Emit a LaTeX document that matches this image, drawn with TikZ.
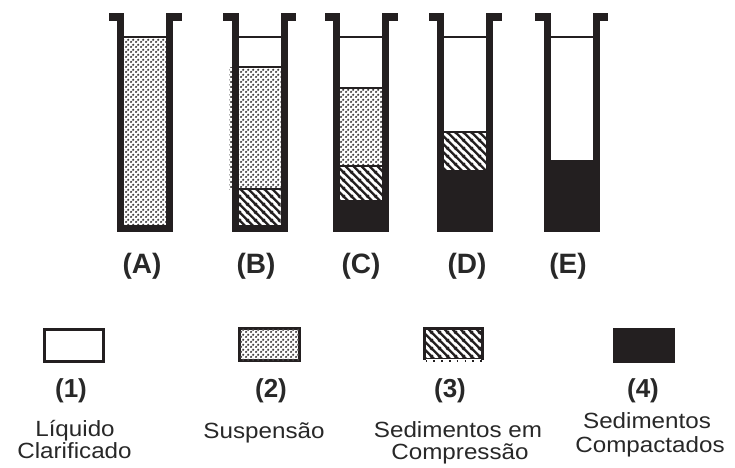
\documentclass[tikz,border=0pt]{standalone}
\usepackage{fontspec}
\usetikzlibrary{patterns}
\newfontfamily\legfont{Liberation Sans}
\newfontfamily\widefont[FakeStretch=1.1]{Liberation Sans}

\definecolor{ink}{RGB}{35,31,32}
\definecolor{txt}{RGB}{40,40,40}

% fine dot texture for the suspension layer
\pgfdeclarepatternformonly{stipple}{\pgfqpoint{0pt}{0pt}}{\pgfqpoint{5pt}{5pt}}{\pgfqpoint{5pt}{5pt}}{%
  \pgfpathcircle{\pgfqpoint{1.25pt}{1.25pt}}{1.42pt}%
  \pgfpathcircle{\pgfqpoint{3.75pt}{3.75pt}}{1.42pt}%
  \pgfusepath{fill}}

% thick back-slash hatching for the compressing sediment
\pgfdeclarepatternformonly{hatchband}{\pgfqpoint{0pt}{0pt}}{\pgfqpoint{8pt}{8pt}}{\pgfqpoint{8pt}{8pt}}{%
  \pgfsetlinewidth{2.4pt}%
  \pgfpathmoveto{\pgfqpoint{-1pt}{9pt}}\pgfpathlineto{\pgfqpoint{9pt}{-1pt}}%
  \pgfpathmoveto{\pgfqpoint{-1pt}{1pt}}\pgfpathlineto{\pgfqpoint{1pt}{-1pt}}%
  \pgfpathmoveto{\pgfqpoint{7pt}{9pt}}\pgfpathlineto{\pgfqpoint{9pt}{7pt}}%
  \pgfusepath{stroke}}

\tikzset{
  clearliq/.style={fill=white},
  suspension/.style={fill=white, postaction={pattern=stipple, pattern color=ink!85}},
  compressing/.style={fill=white, postaction={pattern=hatchband, pattern color=ink}},
  compacted/.style={fill=ink},
  interface/.style={draw=ink, line width=2.6pt},
  tubetag/.style={inner sep=0pt, text=txt, font=\legfont\bfseries\fontsize{28}{30}\selectfont},
  legtag/.style={inner sep=0pt, text=txt, font=\legfont\bfseries\fontsize{26}{28}\selectfont},
  legtext/.style={inner sep=0pt, anchor=base, text=txt, font=\widefont\fontsize{22}{22}\selectfont},
  legbox/.style={draw=ink, line width=3pt},
}

% walls, bottom and rim flanges of one tube centred at x = #1
\newcommand{\tubewalls}[1]{%
  \fill[ink] (#1-36.5,13) rectangle (#1-21,21);
  \fill[ink] (#1+21,13) rectangle (#1+36.5,21);
  \fill[ink] (#1-28,13) rectangle (#1-21,232);
  \fill[ink] (#1+21,13) rectangle (#1+28,232);
  \fill[ink] (#1-28,225) rectangle (#1+28,232);
}

\begin{document}
\begin{tikzpicture}[x=1pt,y=-1pt]
\useasboundingbox (0,0) rectangle (735,467);
\fill[white] (0,0) rectangle (735,467);

% ---- tube A: suspension only
\fill[suspension] (124,37) rectangle (166,225);
\draw[interface] (124,37) -- (166,37);
\tubewalls{145}

% ---- tube B
\fill[clearliq] (238.5,37) rectangle (280.5,67);
\fill[suspension] (238.5,67) rectangle (280.5,189);
\fill[suspension] (229,67) rectangle (233,189);
\fill[compressing] (238.5,189) rectangle (280.5,225);
\draw[interface] (238.5,37) -- (280.5,37);
\draw[interface] (238.5,67) -- (280.5,67);
\draw[interface, line width=1.5pt] (238.5,189) -- (280.5,189);
\tubewalls{259.5}

% ---- tube C
\fill[clearliq] (340,37) rectangle (382,88);
\fill[suspension] (340,88) rectangle (382,166);
\fill[compressing] (340,166) rectangle (382,200);
\fill[compacted] (340,200) rectangle (382,225);
\draw[interface] (340,37) -- (382,37);
\draw[interface] (340,88) -- (382,88);
\draw[interface, line width=1.5pt] (340,166) -- (382,166);
\tubewalls{361}

% ---- tube D
\fill[clearliq] (444,37) rectangle (486,132);
\fill[compressing] (444,132) rectangle (486,170);
\fill[compacted] (444,170) rectangle (486,225);
\draw[interface] (444,37) -- (486,37);
\draw[interface] (444,132) -- (486,132);
\tubewalls{465}

% ---- tube E
\fill[clearliq] (550.5,37) rectangle (592.5,160);
\fill[compacted] (550.5,160) rectangle (592.5,225);
\draw[interface] (550.5,37) -- (592.5,37);
\tubewalls{571.5}

% ---- tube tags
\node[tubetag] (tA) at (142,266.5) {(A)};
\node[tubetag] (tB) at (256,266.5) {(B)};
\node[tubetag] (tC) at (361,266.5) {(C)};
\node[tubetag] (tD) at (467,266.5) {(D)};
\node[tubetag] (tE) at (568,266.5) {(E)};

% ---- legend boxes
\draw[legbox, clearliq] (44.5,329.5) rectangle (103.5,361.5);
\draw[legbox, suspension] (239.5,328.5) rectangle (299.5,360.5);
\fill[compressing] (424,328) rectangle (483,358);
\draw[legbox] (424.5,328.5) -- (482.5,328.5);
\draw[legbox] (424.5,327) -- (424.5,359.5);
\draw[legbox] (482.5,327) -- (482.5,359.5);
\draw[ink, line width=1.2pt] (423,358.5) -- (484,358.5);
\draw[ink, line width=1.6pt, dash pattern=on 1.6pt off 6.2pt] (425.5,361) -- (484,361);
\fill[compacted] (613,328) rectangle (675,363);

% ---- legend numbers
\node[legtag] (n1) at (71,391) {(1)};
\node[legtag] (n2) at (271,391) {(2)};
\node[legtag] (n3) at (450,391) {(3)};
\node[legtag] (n4) at (643,391) {(4)};

% ---- legend descriptions
\node[legtext] (d1a) at (75,436) {Líquido};
\node[legtext] (d1b) at (74.5,458) {Clarificado};
\node[legtext] (d2)  at (264,438) {Suspensão};
\node[legtext] (d3a) at (458,437) {Sedimentos em};
\node[legtext] (d3b) at (460,459) {Compressão};
\node[legtext] (d4a) at (647,428) {Sedimentos};
\node[legtext] (d4b) at (650,452) {Compactados};
\end{tikzpicture}
\end{document}
